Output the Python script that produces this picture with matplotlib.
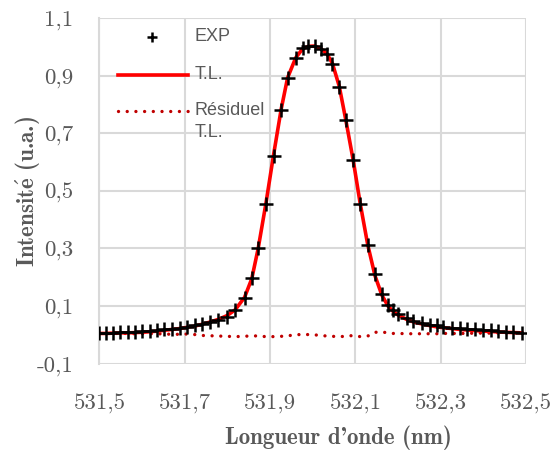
import matplotlib
matplotlib.use("Agg")
import matplotlib.pyplot as plt
from matplotlib.ticker import FixedLocator, FuncFormatter

plt.rcParams["font.family"] = "cmr10"
plt.rcParams["mathtext.fontset"] = "cm"
plt.rcParams["axes.unicode_minus"] = False

# ---- data ----
wavelength = [531.499, 531.515, 531.532, 531.549, 531.566, 531.583, 531.600, 531.618,
              531.635, 531.652, 531.671, 531.688, 531.705, 531.724, 531.741, 531.760,
              531.779, 531.799, 531.818, 531.840, 531.857, 531.872, 531.890, 531.908,
              531.926, 531.941, 531.960, 531.976, 531.990, 532.005, 532.019, 532.033,
              532.046, 532.062, 532.077, 532.095, 532.111, 532.129, 532.146, 532.162,
              532.177, 532.188, 532.201, 532.220, 532.236, 532.256, 532.275, 532.291,
              532.306, 532.326, 532.345, 532.362, 532.380, 532.400, 532.417, 532.435,
              532.453, 532.470, 532.490]
exp_vals = [0.008, 0.008, 0.008, 0.010, 0.010, 0.011, 0.012, 0.015,
            0.017, 0.019, 0.022, 0.025, 0.029, 0.033, 0.038, 0.045,
            0.052, 0.063, 0.085, 0.129, 0.197, 0.301, 0.453, 0.621,
            0.781, 0.893, 0.960, 0.995, 1.003, 1.004, 0.992, 0.975,
            0.940, 0.860, 0.746, 0.607, 0.453, 0.312, 0.211, 0.142,
            0.104, 0.087, 0.071, 0.060, 0.048, 0.042, 0.036, 0.033,
            0.028, 0.025, 0.023, 0.0215, 0.019, 0.017, 0.016, 0.013,
            0.011, 0.010, 0.008]
tl_vals = [0.005, 0.005, 0.006, 0.007, 0.007, 0.008, 0.009, 0.011,
           0.013, 0.016, 0.019, 0.022, 0.026, 0.031, 0.037, 0.045,
           0.054, 0.067, 0.087, 0.130, 0.195, 0.300, 0.455, 0.624,
           0.784, 0.893, 0.962, 0.993, 1.002, 1.003, 0.994, 0.976,
           0.943, 0.864, 0.750, 0.605, 0.458, 0.312, 0.205, 0.138,
           0.099, 0.082, 0.068, 0.054, 0.045, 0.038, 0.032, 0.028,
           0.025, 0.022, 0.019, 0.017, 0.015, 0.013, 0.012, 0.010,
           0.009, 0.008, 0.007]
resid_vals = [0.005, 0.005, 0.005, 0.005, 0.005, 0.004, 0.004, 0.004,
              0.004, 0.003, 0.002, 0.002, 0.003, 0.001, -0.002, -0.003,
              -0.004, -0.005, -0.006, -0.005, -0.003, -0.004, -0.006, -0.006,
              -0.005, -0.003, 0.000, 0.002, 0.001, 0.000, -0.002, -0.004,
              -0.005, -0.006, -0.005, -0.002, -0.006, -0.004, 0.009, 0.010,
              0.007, 0.005, 0.005, 0.004, 0.004, 0.004, 0.004, 0.004,
              0.005, 0.005, 0.005, 0.005, 0.006, 0.006, 0.006, 0.007,
              0.007, 0.007, 0.008]
x_ticks = [531.5, 531.7, 531.9, 532.1, 532.3, 532.5]
y_ticks = [-0.1, 0.1, 0.3, 0.5, 0.7, 0.9, 1.1]
legend_labels = ["EXP", "T.L.", "Résiduel", "T.L."]

GRAY = "#595959"
GRID = "#D9D9D9"

fig = plt.figure(figsize=(5.54, 4.5), dpi=100)
ax = fig.add_axes([0.1796, 0.1918, 0.7699, 0.768])

ax.plot(wavelength, resid_vals, color="#C00000", lw=2.4,
        linestyle=(0, (0.01, 2.6)), dash_capstyle="round", zorder=3)
ax.plot(wavelength, tl_vals, color="#FF0000", lw=2.6, zorder=4)
ax.plot(wavelength, exp_vals, linestyle="none", marker="+", color="black",
        markersize=10, markeredgewidth=1.8, zorder=5)

ax.set_xlim(531.5, 532.5)
ax.set_ylim(-0.1, 1.1)
ax.xaxis.set_major_locator(FixedLocator(x_ticks))
ax.yaxis.set_major_locator(FixedLocator(y_ticks))
fmt = FuncFormatter(lambda v, p: ("%.1f" % v).replace(".", ","))
ax.xaxis.set_major_formatter(fmt)
ax.yaxis.set_major_formatter(fmt)
ax.tick_params(length=0, labelsize=16.5, labelcolor=GRAY)
ax.tick_params(axis="x", pad=22)
ax.tick_params(axis="y", pad=19)

ax.grid(True, color=GRID, lw=1.5)
ax.set_axisbelow(True)
for s in ax.spines.values():
    s.set_visible(False)
ax.spines["left"].set_visible(True)
ax.spines["left"].set_color(GRID)
ax.spines["left"].set_linewidth(1.5)

ax.set_xlabel("Longueur d'onde (nm)", fontfamily="cmb10", fontsize=16.5,
              color=GRAY, va="center")
ax.xaxis.set_label_coords(0.561, -0.215)
ax.set_ylabel(r"Intensit$\mathbf{\acute{e}}$ (u.a.)", fontfamily="cmb10",
              fontsize=16.5, color=GRAY, va="center")
ax.yaxis.set_label_coords(-0.168, 0.497)

# ---- manual legend (axes fraction) ----
tr = ax.transAxes
ax.plot([0.123], [0.9453], transform=tr, marker="+", color="black",
        markersize=7, markeredgewidth=1.8, clip_on=False, zorder=6)
ax.plot([0.0434, 0.2075], [0.8356, 0.8356], transform=tr, color="#FF0000",
        lw=2.6, clip_on=False, zorder=6)
ax.plot([0.0434, 0.2075], [0.7312, 0.7312], transform=tr, color="#C00000",
        lw=2.4, linestyle=(0, (0.01, 2.6)), dash_capstyle="round",
        clip_on=False, zorder=6)
lfont = dict(fontfamily="Liberation Sans", fontsize=13, color=GRAY,
             transform=tr, va="center", ha="left")
ax.text(0.2239, 0.9453, legend_labels[0], **lfont)
ax.text(0.2239, 0.8356, legend_labels[1], **lfont)
ax.text(0.2239, 0.7312, legend_labels[2], **lfont)
ax.text(0.2239, 0.669, legend_labels[3], **lfont)

fig.savefig("out.png", dpi=100)
